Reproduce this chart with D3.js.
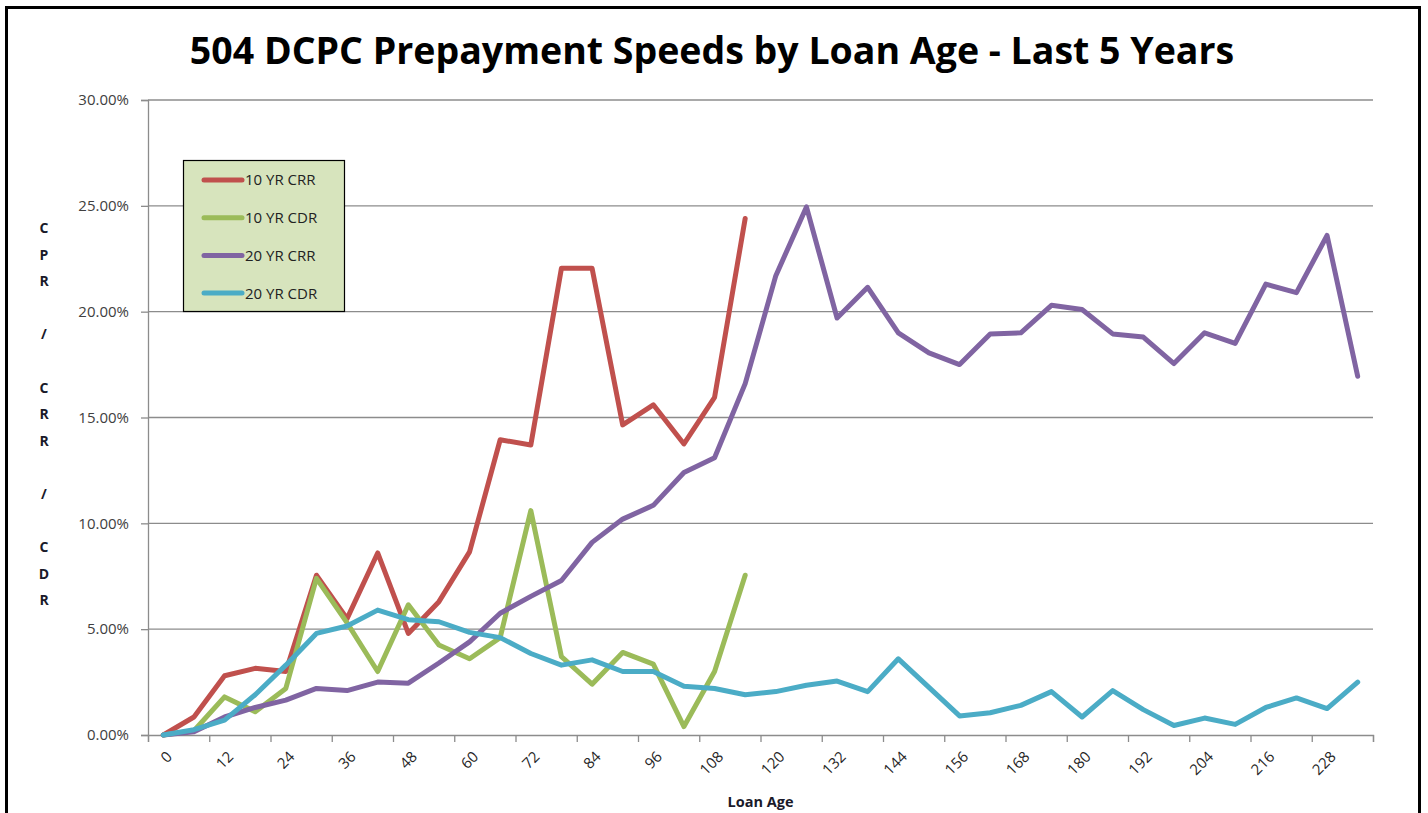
<!DOCTYPE html>
<meta charset="utf-8">
<html>
<head>
  <title>504 DCPC Prepayment Speeds</title>
  <script src="https://d3js.org/d3.v7.min.js"></script>
  <style>
    body { margin: 0; background: #fff; }
    text { font-family: "Open Sans", "DejaVu Sans", sans-serif; }
  </style>
</head>
<body>
<div id="chart"></div>
<script>
  // loan age categories (months)
  var ages = [0, 6, 12, 18, 24, 30, 36, 42, 48, 54, 60, 66, 72, 78, 84, 90, 96, 102, 108, 114,
              120, 126, 132, 138, 144, 150, 156, 162, 168, 174, 180, 186, 192, 198, 204, 210, 216, 222, 228, 234];
  var ageLabels = [0, 12, 24, 36, 48, 60, 72, 84, 96, 108, 120, 132, 144, 156, 168, 180, 192, 204, 216, 228];
  var yTicks = [0, 5, 10, 15, 20, 25, 30];

  // values in percent
  var crr10 = [0, 0.85, 2.8, 3.15, 3.0, 7.55, 5.5, 8.6, 4.8, 6.3, 8.65, 13.95, 13.7, 22.05, 22.05, 14.65, 15.6, 13.75, 15.95, 24.4];
  var cdr10 = [0, 0.2, 1.8, 1.1, 2.2, 7.4, 5.3, 3.0, 6.15, 4.25, 3.6, 4.6, 10.6, 3.7, 2.4, 3.9, 3.35, 0.4, 3.0, 7.55];
  var crr20 = [0, 0.15, 0.85, 1.3, 1.65, 2.2, 2.1, 2.5, 2.45, 3.4, 4.4, 5.75, 6.55, 7.3, 9.1, 10.2, 10.85, 12.4, 13.1, 16.6,
               21.7, 24.95, 19.7, 21.15, 19.0, 18.05, 17.5, 18.95, 19.0, 20.3, 20.1, 18.95, 18.8, 17.55, 19.0, 18.5, 21.3, 20.9, 23.6, 16.95];
  var cdr20 = [0, 0.25, 0.7, 1.9, 3.3, 4.8, 5.15, 5.9, 5.45, 5.35, 4.85, 4.6, 3.85, 3.3, 3.55, 3.0, 3.0, 2.3, 2.2, 1.9,
               2.05, 2.35, 2.55, 2.05, 3.6, 2.25, 0.9, 1.05, 1.4, 2.05, 0.85, 2.1, 1.2, 0.45, 0.8, 0.5, 1.3, 1.75, 1.25, 2.5];

  var seriesNames = ["10 YR CRR", "10 YR CDR", "20 YR CRR", "20 YR CDR"];
  var seriesColors = ["#c0504d", "#9bbb59", "#8064a2", "#4bacc6"];
  var seriesValues = [crr10, cdr10, crr20, cdr20];

  var W = 1428, H = 813;
  var plot = {left: 148, right: 1373, top: 100, bottom: 735};

  var svg = d3.select("#chart").append("svg")
    .attr("width", W)
    .attr("height", H);

  svg.append("rect")
    .attr("width", W).attr("height", H)
    .attr("fill", "#fff");

  // outer chart border
  svg.append("rect")
    .attr("x", 6.5).attr("y", 7.5)
    .attr("width", 1413).attr("height", 900)
    .attr("fill", "none")
    .attr("stroke", "#000")
    .attr("stroke-width", 3);

  var x = d3.scaleBand()
    .domain(ages)
    .range([plot.left, plot.right])
    .padding(0);

  var xIdx = d3.scaleLinear()
    .domain([0, ages.length])
    .range([plot.left, plot.right]);

  var y = d3.scaleLinear()
    .domain([0, 30])
    .range([plot.bottom, plot.top]);

  // gridlines
  svg.append("g")
    .selectAll("line")
    .data(yTicks.slice(1))
    .enter()
    .append("line")
      .attr("x1", plot.left).attr("x2", plot.right)
      .attr("y1", function(d) { return y(d); })
      .attr("y2", function(d) { return y(d); })
      .attr("stroke", "#8c8c8c")
      .attr("stroke-width", 1.3);

  // y axis
  var yAxis = svg.append("g")
    .attr("transform", "translate(" + plot.left + ",0)")
    .call(d3.axisLeft(y).tickValues(yTicks).tickSize(7).tickPadding(12)
      .tickFormat(function(d) { return d.toFixed(2) + "%"; }));
  yAxis.selectAll("line, path").attr("stroke", "#8c8c8c").attr("stroke-width", 1.3);
  yAxis.selectAll("text")
    .style("font-size", "15px")
    .attr("fill", "#404040");

  // x axis: tick marks at every second category boundary
  var xAxis = svg.append("g")
    .attr("transform", "translate(0," + plot.bottom + ")")
    .call(d3.axisBottom(xIdx).tickValues(d3.range(0, ages.length + 1, 2)).tickSize(7).tickFormat(""));
  xAxis.selectAll("line, path").attr("stroke", "#8c8c8c").attr("stroke-width", 1.3);

  svg.append("g")
    .selectAll("text")
    .data(ageLabels)
    .enter()
    .append("text")
      .attr("transform", function(d) {
        return "translate(" + (x(d) + x.bandwidth() / 2 + 6) + "," + (plot.bottom + 19) + ") rotate(-45)";
      })
      .attr("text-anchor", "end")
      .attr("dy", "0.35em")
      .style("font-size", "15px")
      .attr("fill", "#262626")
      .text(function(d) { return d; });

  // series lines
  var line = d3.line()
    .x(function(d, i) { return x(ages[i]) + x.bandwidth() / 2; })
    .y(function(d) { return y(d); });

  svg.append("g")
    .selectAll("path")
    .data(seriesValues)
    .enter()
    .append("path")
      .attr("d", function(d) { return line(d); })
      .attr("fill", "none")
      .attr("stroke", function(d, i) { return seriesColors[i]; })
      .attr("stroke-width", 5)
      .attr("stroke-linejoin", "round")
      .attr("stroke-linecap", "round");

  // legend
  var legend = svg.append("g");
  legend.append("rect")
    .attr("x", 183.5).attr("y", 160.5)
    .attr("width", 161).attr("height", 151)
    .attr("fill", "#d7e4bd")
    .attr("stroke", "#000")
    .attr("stroke-width", 1.2);

  var items = legend.selectAll(".item")
    .data(seriesNames)
    .enter()
    .append("g")
      .attr("class", "item")
      .attr("transform", function(d, i) { return "translate(0," + (180 + i * 37.7) + ")"; });
  items.append("line")
    .attr("x1", 204).attr("x2", 242)
    .attr("stroke", function(d, i) { return seriesColors[i]; })
    .attr("stroke-width", 5)
    .attr("stroke-linecap", "round");
  items.append("text")
    .attr("x", 245)
    .attr("dy", "0.36em")
    .style("font-size", "15px")
    .attr("fill", "#222")
    .text(function(d) { return d; });

  // y axis title, one character per line
  var yTitle = "CPR / CRR / CDR".split("");
  svg.append("g")
    .selectAll("text")
    .data(yTitle)
    .enter()
    .append("text")
      .attr("x", 44)
      .attr("y", function(d, i) { return 228 + i * 26.6; })
      .attr("dy", "0.36em")
      .attr("text-anchor", "middle")
      .style("font-size", "14px")
      .style("font-weight", "bold")
      .attr("fill", "#1a1a2a")
      .text(function(d) { return d; });

  // x axis title
  svg.append("text")
    .attr("x", (plot.left + plot.right) / 2)
    .attr("y", 807)
    .attr("text-anchor", "middle")
    .style("font-size", "14.5px")
    .style("font-weight", "bold")
    .attr("fill", "#1a1a2a")
    .text("Loan Age");

  // chart title, sized to span the same width as the original
  var title = svg.append("text")
    .attr("x", 712)
    .attr("y", 64)
    .attr("text-anchor", "middle")
    .style("font-size", "36px")
    .style("font-weight", "bold")
    .attr("fill", "#000")
    .text("504 DCPC Prepayment Speeds by Loan Age - Last 5 Years");
  var tw = title.node().getComputedTextLength();
  title.style("font-size", (36 * 1045 / tw).toFixed(1) + "px");
</script>
</body>
</html>
